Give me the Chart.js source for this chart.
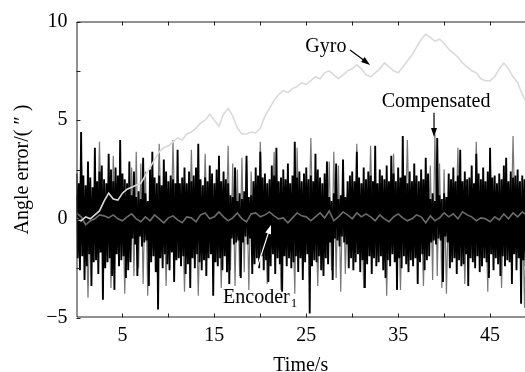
<!DOCTYPE html>
<html>
<head>
<meta charset="utf-8">
<script src="https://cdn.jsdelivr.net/npm/chart.js@4.4.1/dist/chart.umd.min.js"></script>
<style>
  html, body { margin: 0; padding: 0; background: #fff; }
  #wrap { width: 525px; height: 372px; position: relative; }
</style>
</head>
<body>
<div id="wrap"><canvas id="errChart"></canvas></div>
<script>
// sample spacing of each trace, seconds
const blackDt = 0.125;
const grayDt = 0.25;
const lineDt = 0.5;

// dense black trace, 8 samples per second (one row = one second)
const blackNoise = [
  2.3,-2.0,1.8,-2.6,4.4,-1.9,2.2,-3.1,
  1.7,-2.4,2.9,-1.8,2.1,-3.4,1.6,-2.2,
  3.6,-2.1,1.9,-2.8,2.4,-1.7,2.7,-4.1,
  2.0,-2.5,1.8,-2.2,3.3,-2.0,2.5,-2.9,
  1.9,-3.6,2.6,-1.8,2.2,-2.4,4.0,-2.1,
  2.3,-1.9,2.0,-3.0,1.8,-2.6,2.9,-2.2,
  1.2,-1.0,2.4,-1.3,1.1,-2.9,1.4,-0.9,
  1.0,-1.4,3.1,-1.2,1.3,-1.1,0.9,-3.4,
  2.5,-2.2,3.4,-1.9,2.1,-2.7,1.8,-4.6,
  2.2,-2.0,1.7,-2.5,3.0,-1.8,2.4,-2.3,
  1.9,-2.6,2.2,-1.7,2.0,-3.2,1.8,-2.1,
  3.5,-2.0,1.8,-2.4,2.1,-1.9,2.6,-2.8,
  1.8,-2.3,2.4,-3.5,1.9,-2.0,2.2,-2.5,
  2.6,-1.8,3.8,-2.2,2.0,-2.6,1.7,-2.1,
  2.1,-2.9,1.9,-2.0,2.7,-1.8,2.3,-3.9,
  1.8,-2.2,2.5,-2.4,3.2,-2.0,1.9,-2.6,
  2.4,-1.9,2.0,-2.7,1.8,-3.3,1.2,-1.0,
  1.1,-1.3,2.6,-1.2,0.9,-1.1,1.3,-3.0,
  1.0,-1.2,1.4,-0.9,3.2,-1.3,1.1,-1.0,
  1.2,-2.8,1.9,-2.3,2.6,-2.0,2.2,-2.5,
  3.4,-1.9,2.1,-2.6,2.3,-2.1,1.8,-3.2,
  2.0,-2.4,2.7,-1.8,2.2,-2.8,3.6,-2.0,
  1.9,-2.3,2.1,-3.7,2.5,-1.9,2.0,-2.4,
  2.8,-2.0,1.8,-2.5,2.2,-2.2,3.9,-1.9,
  2.1,-2.7,2.4,-2.0,1.9,-3.1,2.3,-2.2,
  2.6,-1.8,2.0,-4.8,2.2,-2.4,1.9,-2.1,
  3.3,-2.2,2.5,-1.9,2.1,-2.6,1.8,-2.9,
  2.3,-2.0,2.9,-2.3,1.1,-1.2,0.9,-3.1,
  1.3,-1.0,2.8,-1.1,1.0,-1.4,1.2,-0.9,
  3.0,-1.2,1.1,-1.3,1.9,-2.5,2.2,-2.0,
  2.4,-2.6,1.9,-2.2,3.4,-1.8,2.1,-2.7,
  1.8,-2.1,2.6,-3.5,2.0,-2.3,2.4,-1.9,
  2.2,-2.8,1.9,-2.0,3.7,-2.4,1.8,-2.2,
  2.5,-1.9,2.2,-2.6,2.0,-3.0,2.7,-2.1,
  1.9,-2.4,3.2,-1.8,2.3,-2.2,1.9,-3.6,
  2.6,-2.0,2.1,-2.5,4.2,-1.9,2.2,-2.3,
  1.8,-2.7,2.4,-2.1,1.9,-2.4,2.8,-2.0,
  2.2,-3.3,1.9,-2.2,2.5,-1.8,2.0,-2.6,
  3.1,-2.1,2.3,-1.9,1.0,-1.2,1.3,-1.1,
  0.9,-1.3,4.1,-1.0,1.2,-1.1,1.0,-3.2,
  1.3,-0.9,1.1,-1.2,2.3,-2.5,2.0,-2.2,
  2.6,-2.0,1.9,-2.8,2.2,-2.1,3.5,-2.4,
  1.9,-2.3,2.4,-1.8,2.0,-3.4,2.1,-2.0,
  2.7,-2.2,1.8,-2.5,3.3,-1.9,2.3,-2.7,
  2.0,-2.4,2.6,-2.0,1.9,-2.2,2.4,-3.0,
  3.6,-1.8,2.1,-2.6,2.2,-2.0,1.8,-2.3,
  2.3,-2.9,2.0,-1.9,2.7,-2.4,3.1,-2.1,
  1.9,-2.2,2.4,-3.3,2.1,-1.8,2.2,-2.6,
  2.5,-2.0,1.9,-4.3,2.2,-2.1,2.0,-2.4,
  2.1
];

// Compensated: gray trace with spikes, 4 samples per second
const compensated = [
  1.2,-1.4,3.6,-1.1,  1.3,-4.0,1.0,-1.5,  1.4,-1.2,3.9,-1.3,  1.1,-1.6,1.5,-3.5,
  3.2,-1.2,1.3,-1.4,  1.6,-3.8,1.2,-1.0,  2.6,-2.9,3.4,-2.5,  2.8,-3.3,2.4,-3.9,
  1.3,-1.5,1.2,-1.1,  3.8,-1.3,1.4,-3.4,  1.2,-1.6,4.0,-1.2,  1.5,-1.1,1.3,-3.7,
  1.1,-1.4,3.5,-1.3,  1.4,-3.9,1.2,-1.5,  3.3,-1.2,1.6,-1.0,  1.2,-1.3,1.1,-3.5,
  1.5,-1.2,3.7,-2.6,  2.8,-3.4,2.5,-2.9,  3.1,-2.7,2.9,-3.6,  2.4,-1.3,1.2,-1.4,
  3.9,-1.1,1.4,-3.3,  1.3,-1.5,3.4,-1.2,  1.1,-3.6,1.3,-1.4,  1.4,-1.2,1.5,-3.8,
  3.6,-1.4,1.2,-1.1,  1.3,-1.2,4.1,-1.5,  1.2,-3.4,1.1,-1.3,  1.5,-1.1,2.9,-2.6,
  3.4,-3.0,2.7,-3.7,  2.6,-2.8,1.3,-1.2,  1.1,-1.4,3.8,-1.3,  1.4,-3.5,1.2,-1.1,
  3.7,-1.3,1.4,-1.5,  1.2,-1.1,1.3,-3.9,  1.5,-1.4,3.3,-1.2,  1.1,-3.6,1.2,-1.3,
  4.0,-1.2,1.5,-1.1,  1.3,-1.5,1.1,-3.4,  1.2,-1.3,2.7,-3.1,  4.3,-2.9,2.8,-3.5,
  2.5,-3.8,1.4,-1.2,  1.3,-1.1,3.6,-1.4,  1.5,-3.3,1.2,-1.3,  1.1,-1.2,3.9,-1.5,
  1.4,-1.3,1.2,-3.7,  3.4,-1.1,1.3,-1.4,  1.2,-3.5,1.5,-1.2,  1.3,-1.4,4.2,-1.1,
  1.1,-1.2,1.4,-4.5,  1.3
];

// Encoder1: slow gray line near zero, 2 samples per second
const encoder1 = [
  0.3,0.1,-0.3,-0.1,0.0,0.2,0.15,0.05,0.2,0.0,
  -0.1,0.1,0.25,0.0,-0.15,0.1,-0.1,0.2,0.0,-0.2,
  0.05,0.15,-0.05,-0.2,0.1,0.05,-0.15,0.2,0.3,0.0,
  0.1,0.35,0.1,-0.1,0.05,0.3,0.0,-0.15,0.25,0.3,
  0.1,0.2,0.35,0.15,0.0,0.05,-0.2,0.05,0.3,0.15,
  0.1,-0.1,0.1,0.3,0.05,0.4,-0.1,0.1,0.35,0.2,
  0.0,0.3,0.1,0.25,0.1,-0.1,0.2,0.0,-0.15,0.1,
  0.25,0.05,-0.1,0.0,0.2,0.1,-0.2,0.15,-0.1,0.05,
  0.3,0.1,0.25,0.0,0.35,0.2,0.1,-0.1,0.05,0.0,
  -0.15,0.1,-0.05,0.25,0.0,0.3,0.1,0.35,0.2
];

// Gyro drift, 2 samples per second
const gyro = [
  0.0,-0.1,0.1,0.0,0.2,0.4,0.9,1.3,1.0,0.95,
  1.3,1.5,1.6,1.7,1.8,2.2,2.6,3.0,3.4,3.6,
  3.7,3.9,4.1,4.0,4.3,4.4,4.6,4.85,5.0,5.3,
  5.0,4.7,5.3,5.6,5.2,4.6,4.3,4.3,4.4,4.35,
  4.6,5.2,5.6,6.0,6.3,6.5,6.4,6.6,6.7,6.9,
  6.8,7.0,7.2,7.1,7.4,7.5,7.3,7.1,7.3,7.5,
  7.6,7.8,7.6,7.3,7.2,7.4,7.6,7.9,7.7,7.5,
  7.4,7.7,8.0,8.3,8.7,9.1,9.35,9.2,9.0,9.1,
  8.9,8.6,8.4,8.2,7.9,7.7,7.5,7.4,7.1,7.0,
  7.0,7.2,7.6,7.9,7.6,7.2,6.9,6.3,5.9
];

const yTicks = [-5, -2.5, 0, 2.5, 5, 7.5, 10];
const yTickLabels = [-5, 0, 5, 10];
const xTicks = [0, 5, 10, 15, 20, 25, 30, 35, 40, 45];
const xTickLabels = [5, 15, 25, 35, 45];

function toPoints(values, dt) {
  return values.map((v, i) => ({ x: i * dt, y: v }));
}

const serif = "'Liberation Serif', 'DejaVu Serif', serif";

// frame, inward ticks and the text labels with arrows
const decorPlugin = {
  id: 'decor',
  afterDatasetsDraw(chart) {
    const { ctx, chartArea: a, scales } = chart;
    const xs = scales.x, ys = scales.y;
    ctx.save();
    ctx.strokeStyle = '#222';
    ctx.lineWidth = 1;
    ctx.beginPath();
    ctx.moveTo(a.right, a.top + 0.5);
    ctx.lineTo(a.left + 0.5, a.top + 0.5);
    ctx.lineTo(a.left + 0.5, a.bottom - 0.5);
    ctx.lineTo(a.right, a.bottom - 0.5);
    ctx.stroke();

    ctx.beginPath();
    xs.ticks.forEach(t => {
      if (t.value <= 0) return;
      const px = Math.round(xs.getPixelForValue(t.value)) + 0.5;
      ctx.moveTo(px, a.bottom); ctx.lineTo(px, a.bottom - 4);
      ctx.moveTo(px, a.top); ctx.lineTo(px, a.top + 4);
    });
    ys.ticks.forEach(t => {
      const py = Math.round(ys.getPixelForValue(t.value)) + 0.5;
      ctx.moveTo(a.left, py); ctx.lineTo(a.left + 4, py);
    });
    ctx.stroke();

    function arrow(x0, y0, x1, y1, color) {
      const p0x = xs.getPixelForValue(x0), p0y = ys.getPixelForValue(y0);
      const p1x = xs.getPixelForValue(x1), p1y = ys.getPixelForValue(y1);
      const ang = Math.atan2(p1y - p0y, p1x - p0x);
      ctx.strokeStyle = color;
      ctx.fillStyle = color;
      ctx.lineWidth = 1.2;
      ctx.beginPath();
      ctx.moveTo(p0x, p0y);
      ctx.lineTo(p1x - 6 * Math.cos(ang), p1y - 6 * Math.sin(ang));
      ctx.stroke();
      ctx.beginPath();
      ctx.moveTo(p1x, p1y);
      ctx.lineTo(p1x - 9 * Math.cos(ang) + 3 * Math.sin(ang), p1y - 9 * Math.sin(ang) - 3 * Math.cos(ang));
      ctx.lineTo(p1x - 9 * Math.cos(ang) - 3 * Math.sin(ang), p1y - 9 * Math.sin(ang) + 3 * Math.cos(ang));
      ctx.closePath();
      ctx.fill();
    }

    ctx.fillStyle = '#000';
    ctx.font = '20px ' + serif;
    ctx.textBaseline = 'alphabetic';
    ctx.textAlign = 'left';
    ctx.fillText('Gyro', xs.getPixelForValue(24.9), ys.getPixelForValue(8.46));
    ctx.fillText('Compensated', xs.getPixelForValue(33.2), ys.getPixelForValue(5.67));
    const ex = xs.getPixelForValue(15.95), ey = ys.getPixelForValue(-4.26);
    ctx.fillText('Encoder', ex, ey);
    const w = ctx.measureText('Encoder').width;
    ctx.font = '13px ' + serif;
    ctx.fillText('1', ex + w + 1, ey + 4);

    arrow(29.76, 8.56, 31.94, 7.8, '#000');
    arrow(38.9, 5.37, 38.9, 4.15, '#000');
    arrow(19.64, -2.49, 21.16, -0.31, '#fff');
    ctx.restore();
  }
};

new Chart(document.getElementById('errChart'), {
  type: 'line',
  data: {
    datasets: [
      {
        label: 'Gyro',
        data: toPoints(gyro, lineDt),
        borderColor: '#dadada',
        borderWidth: 1.6,
        order: 0
      },
      {
        label: 'Encoder1',
        data: toPoints(encoder1, lineDt),
        borderColor: '#6c6c6c',
        borderWidth: 1.6,
        order: 1
      },
      {
        label: 'Measured',
        data: toPoints(blackNoise, blackDt),
        borderColor: '#000',
        borderWidth: 1.9,
        order: 2
      },
      {
        label: 'Compensated',
        data: toPoints(compensated, grayDt),
        borderColor: '#777',
        borderWidth: 1.2,
        order: 3
      }
    ]
  },
  options: {
    responsive: true,
    maintainAspectRatio: false,
    animation: false,
    events: [],
    layout: { padding: { top: 21.5, right: 0, left: 0, bottom: 0 } },
    elements: {
      point: { radius: 0 },
      line: { tension: 0 }
    },
    plugins: {
      legend: { display: false },
      tooltip: { enabled: false }
    },
    scales: {
      x: {
        type: 'linear',
        min: 0,
        max: 48.8,
        grid: { display: false, drawTicks: false },
        border: { display: false },
        afterBuildTicks: s => { s.ticks = xTicks.map(v => ({ value: v })); },
        ticks: {
          padding: 6,
          maxRotation: 0,
          autoSkip: false,
          color: '#000',
          font: { family: serif, size: 20 },
          callback: v => (xTickLabels.includes(v) ? String(v) : '')
        },
        title: {
          display: true,
          text: 'Time/s',
          color: '#000',
          font: { family: serif, size: 20, lineHeight: 1 },
          padding: { top: 0, bottom: -4 }
        },
        afterFit: s => { s.height = 54.5; }
      },
      y: {
        min: -5,
        max: 10,
        grid: { display: false, drawTicks: false },
        border: { display: false },
        afterBuildTicks: s => { s.ticks = yTicks.map(v => ({ value: v })); },
        ticks: {
          padding: 9,
          autoSkip: false,
          color: '#000',
          font: { family: serif, size: 20 },
          callback: v => (yTickLabels.includes(v) ? String(v).replace('-', '\u2212') : '')
        },
        title: {
          display: true,
          text: 'Angle error/( \u2033 )',
          color: '#000',
          font: { family: serif, size: 20, lineHeight: 1 },
          padding: { top: 13, bottom: 0 }
        },
        afterFit: s => { s.width = 76.5; }
      }
    }
  },
  plugins: [decorPlugin]
});
</script>
</body>
</html>
